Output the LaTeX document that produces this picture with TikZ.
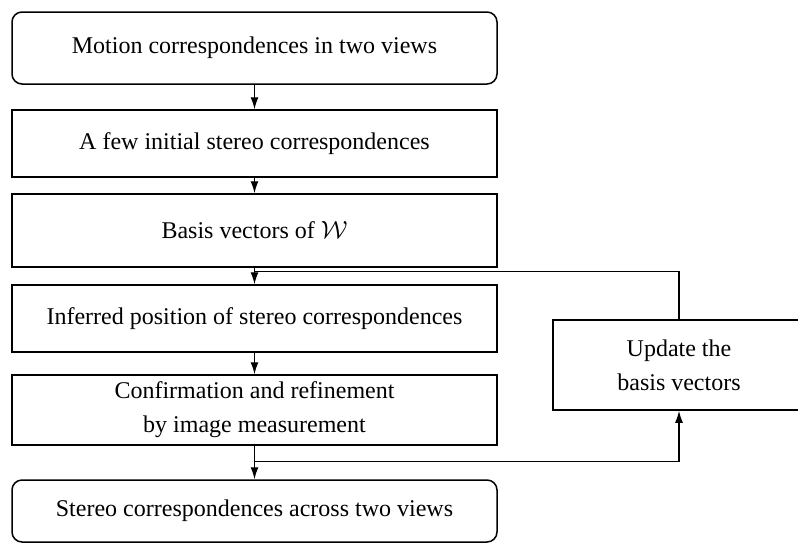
\documentclass[tikz,border=0pt]{standalone}
\usepackage{fontspec}
\setmainfont{Liberation Serif}
\usetikzlibrary{arrows.meta}
\begin{document}
\begin{tikzpicture}[x=1pt,y=-1pt,
  box/.style={draw, line width=1.5pt, minimum width=485pt, align=center,
    font=\fontsize{24}{34}\selectfont, inner sep=0pt},
  rbox/.style={box, rounded corners=10pt},
  arr/.style={line width=1.3pt, -{Latex[length=12pt,width=8pt]}},
  ln/.style={line width=1.3pt}]
\useasboundingbox (0,0) rectangle (798,542);
\clip (0,0) rectangle (798,542);
\node[rbox, minimum height=72pt] (b1) at (254.5,48) {Motion correspondences in two views};
\node[box, minimum height=67pt] (b2) at (254.5,143.5) {A few initial stereo correspondences};
\node[box, minimum height=73pt] (b3) at (254.5,230.5) {Basis vectors of $\mathcal{W}$};
\node[box, minimum height=67pt] (b4) at (254.5,318.5) {Inferred position of stereo correspondences};
\node[box, minimum height=70pt] (b5) at (254.5,410) {Confirmation and refinement\\by image measurement};
\node[rbox, minimum height=62pt] (b6) at (254.5,511) {Stereo correspondences across two views};
\node[box, minimum width=252pt, minimum height=90pt] (upd) at (679,365) {Update the\\basis vectors};
\coordinate (j1) at ([yshift=-4pt]b3.south);
\coordinate (j2) at ([yshift=-16pt]b5.south);
\draw[arr] (b1) -- (b2);
\draw[arr] (b2) -- (b3);
\draw[arr] (b3) -- (b4);
\draw[arr] (b4) -- (b5);
\draw[arr] (b5) -- (b6);
\draw[ln] (j1) -| (upd.north);
\draw[arr] (j2) -| (upd.south);
\end{tikzpicture}
\end{document}
